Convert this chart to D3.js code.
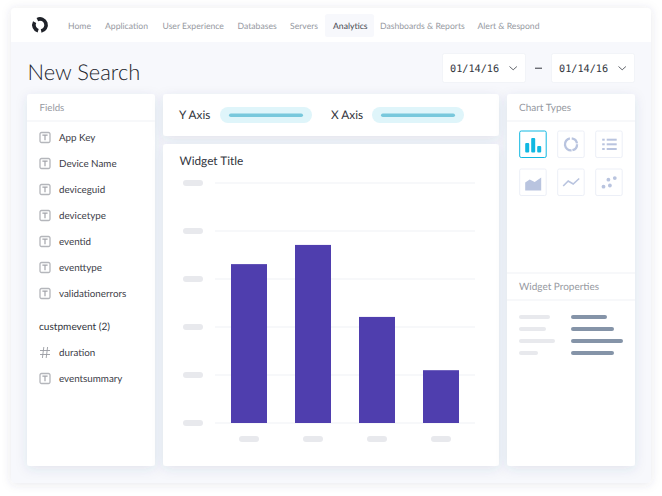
<!DOCTYPE html>
<html><head><meta charset="utf-8">
<style>html,body{margin:0;padding:0;background:#fff;overflow:hidden}svg{display:block}text{font-family:Lato,sans-serif;text-rendering:geometricPrecision}</style>
<script src="https://cdn.jsdelivr.net/npm/d3@7"></script></head><body>
<script>
const navItems = ["Home","Application","User Experience","Databases","Servers","Analytics","Dashboards & Reports","Alert & Respond"];
const navX = [68,105,162.5,237.5,290,333,380,477.5];
const textFields = ["App Key","Device Name","deviceguid","devicetype","eventid","eventtype","validationerrors"];
const groupTitle = "custpmevent (2)";
const groupFields = ["duration","eventsummary"];
const groupKinds = ["#","T"];
const categories = ["A","B","C","D"];
const values = [3.31,3.71,2.21,1.10];
const yTicks = [0,1,2,3,4,5];
const propLabelW = [31,27,36,19];
const propValueW = [36,43,52,43];

const svg = d3.select("body").append("svg").attr("width",662).attr("height",496);
const defs = svg.append("defs");
function shadow(id,dy,blur,op){
  const f=defs.append("filter").attr("id",id).attr("x","-20%").attr("y","-20%").attr("width","140%").attr("height","140%");
  f.append("feDropShadow").attr("dx",0).attr("dy",dy).attr("stdDeviation",blur).attr("flood-color","#3c4270").attr("flood-opacity",op);
}
shadow("outer",1,5,0.13); shadow("card",3,6,0.11);
const rect=(p,x,y,w,h,fill,r=0)=>p.append("rect").attr("x",x).attr("y",y).attr("width",w).attr("height",h).attr("fill",fill).attr("rx",r);
const txt=(p,x,y,t,size,fill,extra={})=>{const e=p.append("text").attr("x",x).attr("y",y).attr("font-size",size).attr("fill",fill).text(t);for(const k in extra)e.attr(k,extra[k]);return e;};

// frame
rect(svg,11,8,640,475,"#f7f8fc",4).attr("filter","url(#outer)");
svg.append("path").attr("d","M11 42V12a4 4 0 0 1 4-4H647a4 4 0 0 1 4 4V42Z").attr("fill","#fff");

// logo
const logo=svg.append("g").attr("transform","translate(40,25)").attr("fill","#1f2229");
const logoArc=d3.arc().innerRadius(4.3).outerRadius(7.9);
logo.append("path").attr("d",logoArc({startAngle:-0.45,endAngle:2.95}));
logo.append("path").attr("d",logoArc({startAngle:3.45,endAngle:5.2}));

// nav
rect(svg,325,14,49,23,"#f7f8fc",2.5);
svg.selectAll("text.nav").data(navItems).join("text").attr("class","nav")
  .attr("x",(d,i)=>navX[i]).attr("y",28.5).attr("font-size",8.65)
  .attr("fill",d=>d==="Analytics"?"#444851":"#96999f").text(d=>d);

txt(svg,27.5,80,"New Search",21.9,"#22252d",{"font-weight":300});

// date pickers
[442.5,551.5].forEach(x=>{
  rect(svg,x,53.5,83,29,"#fff",2).attr("stroke","#eef0f5").attr("stroke-width",.7);
  txt(svg,x+7.5,72,"01/14/16",10.2,"#33363e",{style:"font-family:'DejaVu Sans Mono'"});
  svg.append("path").attr("d",`M${x+67} 66.5l3.7 3.3l3.7-3.3`).attr("fill","none").attr("stroke","#50535b").attr("stroke-width",.9);
});
rect(svg,535,67.7,7,1,"#33363e");

// cards
rect(svg,27,94,128,372,"#fff",3).attr("filter","url(#card)");
rect(svg,163,94,336,42,"#fff",3).attr("filter","url(#card)");
rect(svg,163,144,336,322,"#fff",3).attr("filter","url(#card)");
rect(svg,507,94,128,372,"#fff",3).attr("filter","url(#card)");

// fields panel
txt(svg,39.5,111,"Fields",9.7,"#96999f");
rect(svg,27,120,128,2,"#f7f8fa");
function iconT(x,y){
  const g=svg.append("g").attr("transform",`translate(${x},${y})`);
  g.append("rect").attr("x",-5).attr("y",-5).attr("width",10).attr("height",10).attr("rx",1.5).attr("fill","none").attr("stroke","#b4b6bb").attr("stroke-width",1.3);
  g.append("path").attr("d","M-2.6 -2.4H2.6M0 -2.4V2.8").attr("fill","none").attr("stroke","#a3a5ab").attr("stroke-width",1.2);
}
function iconHash(x,y){
  svg.append("path").attr("transform",`translate(${x},${y})`).attr("d","M-5 -2H5M-5 2H5M-1.2 -5.5L-2.6 5.5M2.6 -5.5L1.2 5.5").attr("fill","none").attr("stroke","#9a9ca3").attr("stroke-width",.9);
}
textFields.forEach((d,i)=>{const y=137.5+26*i; iconT(45,y); txt(svg,59,y+3.5,d,9.8,"#3d4048");});
txt(svg,39,330,groupTitle,10.1,"#33363e");
groupFields.forEach((d,i)=>{const y=352.5+26*i; (groupKinds[i]==="#"?iconHash:iconT)(45,y); txt(svg,59,y+3.5,d,9.8,"#3d4048");});

// axis card
txt(svg,179,119,"Y Axis",11.8,"#33363e");
rect(svg,220,107,92,16,"#dff5fa",8); rect(svg,229,113.5,74,3.5,"#78c8dc",1.75);
txt(svg,331,119,"X Axis",11.8,"#33363e");
rect(svg,372,107,92,16,"#dff5fa",8); rect(svg,381,113.5,74,3.5,"#78c8dc",1.75);

// chart
txt(svg,179.5,165,"Widget Title",11.8,"#33363e");
const y=d3.scaleLinear().domain([0,5]).range([423,183]);
const x=d3.scaleBand().domain(categories).range([217,473]).paddingInner(.4375).paddingOuter(.21875);
svg.append("g").selectAll("line").data(yTicks).join("line")
  .attr("x1",215).attr("x2",475).attr("y1",d=>y(d)).attr("y2",d=>y(d)).attr("stroke","#f5f6f8").attr("stroke-width",1.5);
svg.append("g").selectAll("rect").data(yTicks).join("rect")
  .attr("x",183).attr("width",20).attr("y",d=>y(d)-3).attr("height",6).attr("rx",3).attr("fill","#e8e9ed");
svg.append("g").selectAll("rect").data(categories).join("rect")
  .attr("x",(d)=>x(d)+x.bandwidth()/2-10).attr("width",20).attr("y",436).attr("height",6).attr("rx",3).attr("fill","#e8e9ed");
svg.append("g").selectAll("rect").data(values).join("rect")
  .attr("x",(d,i)=>x(categories[i])).attr("width",x.bandwidth())
  .attr("y",d=>y(d)).attr("height",d=>y(0)-y(d)).attr("fill","#4f3eae");

// right panel
txt(svg,519,111,"Chart Types",10,"#96999f");
rect(svg,507,120,128,2,"#f7f8fa");
const iconColor="#b9c4df";
const tiles=[[519.7,131],[557.7,131],[595.7,131],[519.7,169],[557.7,169],[595.7,169]];
tiles.forEach(([tx,ty],i)=>{
  const g=svg.append("g").attr("transform",`translate(${tx},${ty})`);
  g.append("rect").attr("x",0).attr("y",0).attr("width",26.5).attr("height",26.5).attr("rx",1.5).attr("fill","#fff").attr("stroke",i===0?"#10b8e2":"#eceff7").attr("stroke-width",1);
  if(i===0){rect(g,5.5,12,4,9.5,"#10b8e2",1);rect(g,11.5,7,4,14.5,"#10b8e2",1);rect(g,17.5,15,4,6.5,"#10b8e2",1);}
  if(i===1){
    const a=d3.arc().innerRadius(4.9).outerRadius(7.2);
    [[0.12,1.42],[1.55,2.9],[3.05,6.1]].forEach(([s,e])=>g.append("path").attr("transform","translate(13.3,13.3)").attr("d",a({startAngle:s,endAngle:e})).attr("fill",iconColor));
  }
  if(i===2){[8.7,13.3,18].forEach(v=>{rect(g,6.5,v-1,2.5,2,iconColor);rect(g,11,v-1,10,2,iconColor);});}
  if(i===3){g.append("path").attr("d","M5.5 21.5V13.5L10 10.5L15 13L21.5 8.5V21.5Z").attr("fill",iconColor);}
  if(i===4){g.append("path").attr("d","M5.5 17L10.5 12L15.5 15L21.5 9.5").attr("fill","none").attr("stroke",iconColor).attr("stroke-width",1.6);}
  if(i===5){[[7.8,17.7],[12.7,10.7],[14.2,16.5],[19.1,9.1]].forEach(([a,b])=>g.append("circle").attr("cx",a).attr("cy",b).attr("r",1.9).attr("fill",iconColor));}
});
rect(svg,507,272,128,2,"#f7f8fa");
txt(svg,519,290,"Widget Properties",10,"#96999f");
rect(svg,507,299,128,2,"#f7f8fa");
propLabelW.forEach((w,i)=>{const yy=315+12*i; rect(svg,519,yy,w,4,"#e8e9ed",2); rect(svg,571,yy,propValueW[i],4,"#8594a8",2);});
</script></body></html>
